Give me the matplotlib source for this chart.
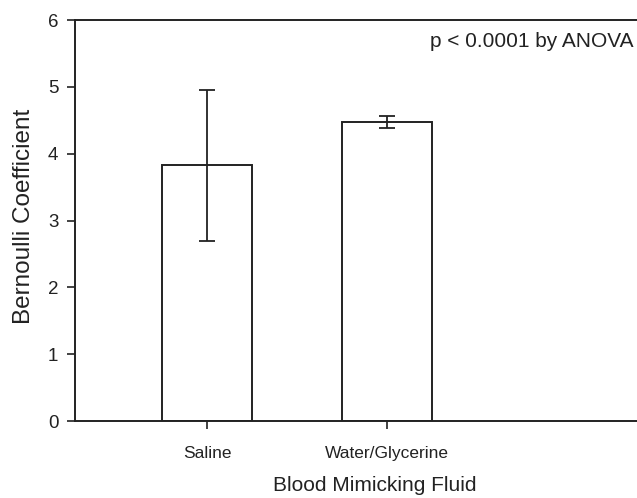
import numpy as np
import matplotlib
matplotlib.use("Agg")
import matplotlib.pyplot as plt

plt.rcParams["font.family"] = ["Liberation Sans", "DejaVu Sans"]

fluids = ["Saline", "Water/Glycerine"]
means = [3.83, 4.47]
err_low = [2.70, 4.38]
err_high = [4.95, 4.57]
y_ticks = [0, 1, 2, 3, 4, 5, 6]
note = "p < 0.0001 by ANOVA"

x = np.arange(1, len(fluids) + 1)
yerr = [np.array(means) - np.array(err_low), np.array(err_high) - np.array(means)]

fig = plt.figure(figsize=(6.37, 4.98), dpi=100)
# axes extends past the right edge like the cropped original
ax = fig.add_axes([75 / 637, 1 - 421 / 498, 600 / 637, 401 / 498])

ax.bar(x, means, width=0.5, color="white", edgecolor="#222222", linewidth=1.4, zorder=2)
ax.errorbar(x, means, yerr=yerr, fmt="none", ecolor="#222222", elinewidth=1.3,
            capsize=6, capthick=1.3, zorder=3)

ax.set_xlim(0.267, 0.267 + 600 / 180)
ax.set_ylim(0, 6)
ax.set_yticks(y_ticks)
ax.set_xticks(x)
ax.set_xticklabels(fluids)

for side in ["left", "bottom", "top"]:
    ax.spines[side].set_color("#222222")
    ax.spines[side].set_linewidth(1.4)
ax.spines["right"].set_visible(False)

ax.tick_params(axis="both", direction="out", length=6, width=1.2, color="#222222",
               labelsize=12.5, labelcolor="#222222")
ax.tick_params(axis="y", labelsize=13.5, pad=6)
ax.tick_params(axis="x", pad=12)

ax.set_xlabel("Blood Mimicking Fluid", fontsize=15, color="#222222", labelpad=11)
ax.set_ylabel("Bernoulli Coefficient", fontsize=17.5, color="#222222")
ax.yaxis.set_label_coords(-0.066, 0.51)

ax.text(0.267 + 558 / 180, 5.68, note, fontsize=15, color="#222222",
        ha="right", va="center")

fig.savefig("out.png", dpi=100)
